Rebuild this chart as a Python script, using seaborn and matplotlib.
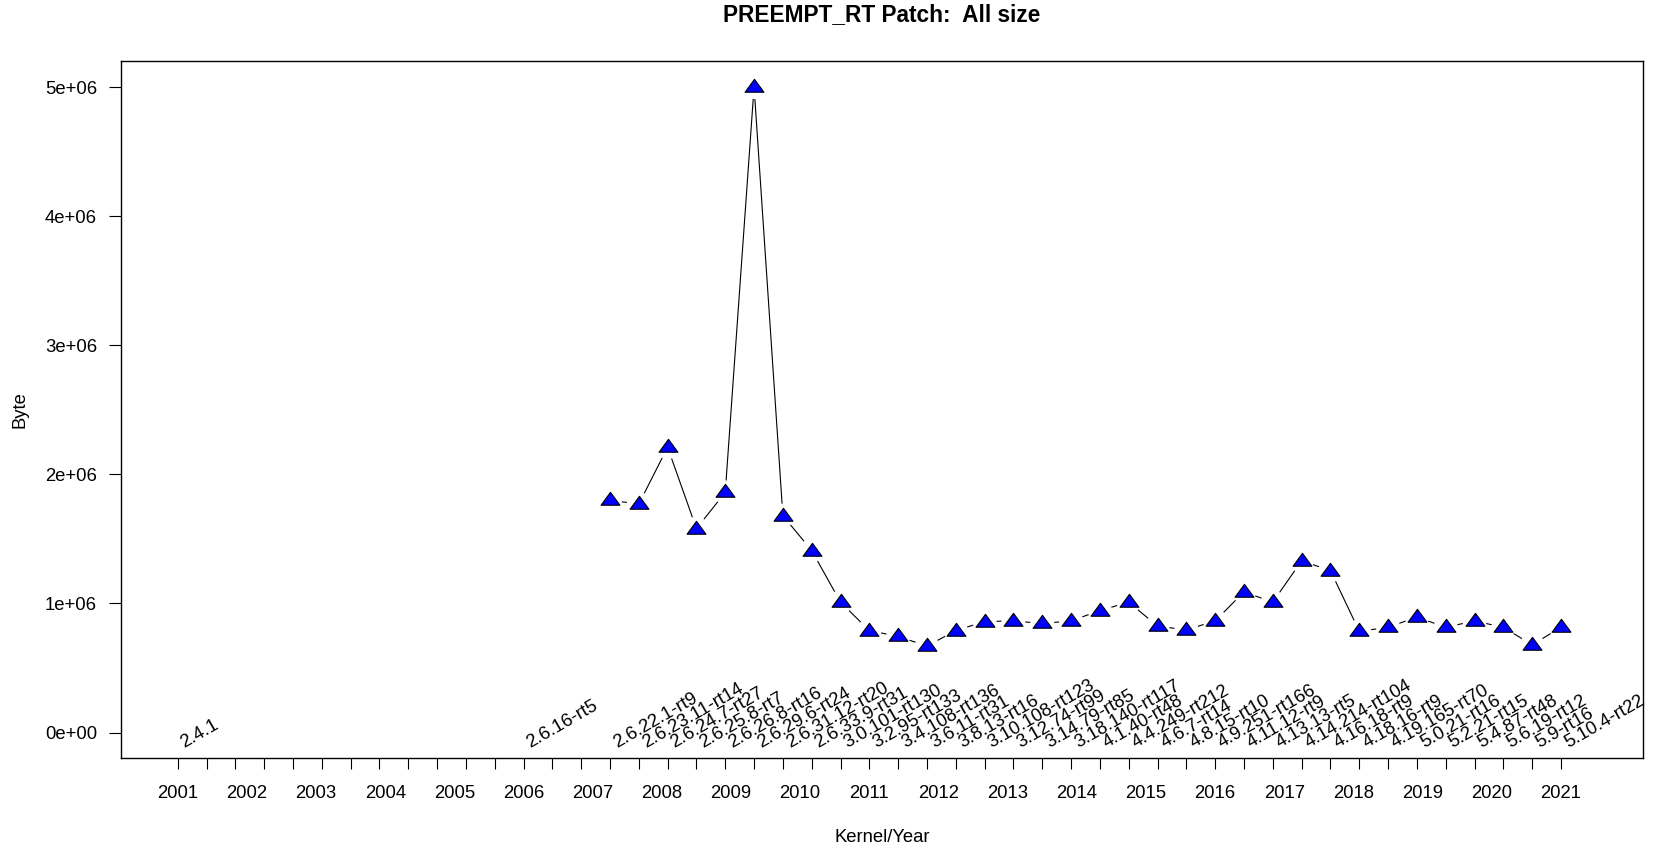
import numpy as np
import pandas as pd
import matplotlib
matplotlib.use("Agg")
import matplotlib.pyplot as plt
from matplotlib.path import Path
from matplotlib.transforms import blended_transform_factory
import seaborn as sns

# ---------------- data ----------------
kernel_versions = [
    "2.4.1", "2.6.16-rt5",
    "2.6.22.1-rt9", "2.6.23.11-rt14", "2.6.24.7-rt27", "2.6.25.8-rt7",
    "2.6.26.8-rt16", "2.6.29.6-rt24", "2.6.31.12-rt20", "2.6.33.9-rt31",
    "3.0.101-rt130", "3.2.95-rt133", "3.4.108-rt136", "3.6.11-rt31",
    "3.8.13-rt16", "3.10.108-rt123", "3.12.74-rt99", "3.14.79-rt85",
    "3.18.140-rt117", "4.1.40-rt48", "4.4.249-rt212", "4.6.7-rt14",
    "4.8.15-rt10", "4.9.251-rt166", "4.11.12-rt9", "4.13.13-rt5",
    "4.14.214-rt104", "4.16.18-rt9", "4.18.16-rt9", "4.19.165-rt70",
    "5.0.21-rt16", "5.2.21-rt15", "5.4.87-rt48", "5.6.19-rt12",
    "5.9-rt16", "5.10.4-rt22",
]
# release slot (index on the kernel/year axis)
release_slot = [1, 13] + list(range(16, 50))
# patch size in bytes (NaN: no patch data)
patch_size = [
    np.nan, np.nan,
    1.80e6, 1.77e6, 2.21e6, 1.58e6, 1.86e6, 5.00e6, 1.68e6, 1.41e6,
    1.01e6, 0.79e6, 0.745e6, 0.67e6, 0.79e6, 0.86e6, 0.865e6, 0.845e6,
    0.865e6, 0.945e6, 1.01e6, 0.825e6, 0.795e6, 0.865e6, 1.09e6, 1.01e6,
    1.33e6, 1.255e6, 0.785e6, 0.815e6, 0.895e6, 0.815e6, 0.865e6, 0.815e6,
    0.68e6, 0.815e6,
]
n_slots = 49
years = list(range(2001, 2022))
ytick_values = [0, 1e6, 2e6, 3e6, 4e6, 5e6]
ytick_labels = ["0e+00", "1e+06", "2e+06", "3e+06", "4e+06", "5e+06"]

df = pd.DataFrame({"slot": release_slot, "size": patch_size, "version": kernel_versions})
dfp = df.dropna(subset=["size"])

# ---------------- style ----------------
sns.set_theme(style="ticks")
plt.rcParams["font.family"] = ["Liberation Sans", "DejaVu Sans"]
plt.rcParams["axes.linewidth"] = 1.0
plt.rcParams["axes.edgecolor"] = "black"

W, H = 1654, 849
fig = plt.figure(figsize=(W / 100, H / 100), dpi=100)
L, R, T, B = 121.3, 1643.4, 61.2, 758.4
ax = fig.add_axes([L / W, 1 - B / H, (R - L) / W, (B - T) / H])
ax.set_facecolor("white")

# line with gaps (R type="b")
sns.lineplot(data=dfp, x="slot", y="size", color="black", linewidth=0.8,
             sort=False, estimator=None, ax=ax, zorder=2)
sns.scatterplot(data=dfp, x="slot", y="size", marker="o", s=300,
                color="white", edgecolor="none", linewidth=0, ax=ax, zorder=3)
tri = Path([(0, 1.347), (1.555, -0.778), (-1.555, -0.778), (0, 1.347)],
           [Path.MOVETO, Path.LINETO, Path.LINETO, Path.CLOSEPOLY])
sns.scatterplot(data=dfp, x="slot", y="size", marker=tri, s=185,
                color="#0000FF", edgecolor="black", linewidth=0.8, ax=ax, zorder=4)

# version labels
for s, v in zip(df["slot"], df["version"]):
    ax.text(s + 0.24, -0.12e6, v, rotation=30, rotation_mode="anchor",
            ha="left", va="baseline", fontsize=13.3, color="black", zorder=5)

ax.set_xlim(-0.957, 51.86)
ax.set_ylim(-0.2e6, 5.2e6)

# x ticks: one per slot, year labels spread across
ax.set_xticks(np.arange(1, n_slots + 1))
ax.set_xticklabels([])
ax.tick_params(axis="x", length=7.9, width=0.8, color="black", direction="out")
trans = blended_transform_factory(ax.transData, ax.transAxes)
year_pos = np.linspace(1, n_slots, len(years))
for xp, yr in zip(year_pos, years):
    ax.text(xp, (B - 794) / (B - T), str(yr), transform=trans, ha="center",
            va="center", fontsize=13.3, color="black")

ax.set_yticks(ytick_values)
ax.set_yticklabels(ytick_labels)
ax.tick_params(axis="y", length=8.6, width=0.8, color="black", direction="out",
               pad=8.9, labelsize=13.3, labelcolor="black")

ax.set_xlabel("Kernel/Year", fontsize=13.3, color="black")
ax.xaxis.set_label_coords(0.5, (B - 829) / (B - T))
ax.set_ylabel("Byte", fontsize=13.3, color="black")
ax.yaxis.set_label_coords((29 - L) / (R - L), 0.5)

for sp in ax.spines.values():
    sp.set_visible(True)
    sp.set_color("black")
    sp.set_linewidth(1.0)

fig.text(882 / W, 1 - 15 / H, "PREEMPT_RT Patch:  All size", ha="center",
         va="center", fontsize=16.3, fontweight="bold", color="black")

fig.savefig("out.png", dpi=100, facecolor="white")
